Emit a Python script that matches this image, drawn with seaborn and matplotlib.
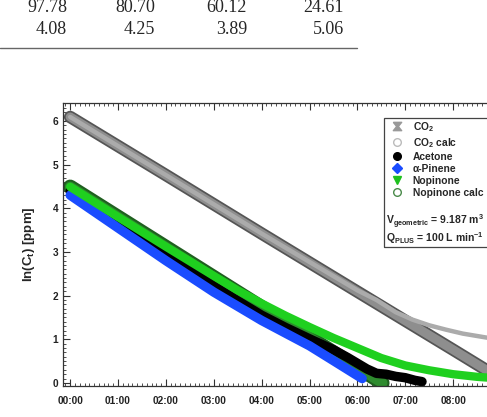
import pandas as pd
import matplotlib
matplotlib.use("Agg")
import matplotlib.pyplot as plt
import seaborn as sns
from matplotlib.lines import Line2D
from matplotlib.path import Path
from matplotlib.patches import Rectangle
from matplotlib.ticker import MultipleLocator, FixedLocator, FuncFormatter

# table rows visible above the figure
table_row1 = ["97.78", "80.70", "60.12", "24.61"]
table_row2 = ["4.08", "4.25", "3.89", "5.06"]

# elapsed time [h] vs ln(C) [ppm]
co2_calc_t = [0.0, 2.0, 4.0, 6.0, 8.0, 9.0]
co2_calc_v = [6.09, 4.76, 3.42, 2.09, 0.76, 0.09]
co2_t = [0.0, 2.0, 4.0, 6.0, 6.4, 6.8, 7.15, 7.5, 7.85, 8.2, 8.69, 9.0]
co2_v = [6.09, 4.76, 3.42, 2.12, 1.90, 1.62, 1.45, 1.32, 1.22, 1.13, 1.04, 1.00]
nop_calc_t = [0.0, 3.0, 5.83, 6.52]
nop_calc_v = [4.49, 2.42, 0.47, 0.0]
acetone_t = [0.0, 1.0, 2.0, 3.0, 3.5, 4.0, 4.5, 5.0, 5.5, 5.8, 6.0, 6.2, 6.4, 6.6, 6.8, 7.0, 7.2, 7.35]
acetone_v = [4.39, 3.66, 2.94, 2.22, 1.88, 1.55, 1.27, 1.01, 0.76, 0.58, 0.45, 0.32, 0.22, 0.20, 0.15, 0.12, 0.06, 0.03]
pinene_t = [0.0, 1.0, 2.0, 3.0, 4.0, 5.0, 5.5, 6.1]
pinene_v = [4.30, 3.55, 2.80, 2.08, 1.43, 0.85, 0.51, 0.10]
nop_t = [0.0, 1.0, 2.0, 3.0, 3.5, 4.0, 4.5, 5.0, 5.5, 6.0, 6.5, 7.0, 7.5, 8.0, 8.5, 9.0]
nop_v = [4.49, 3.80, 3.12, 2.45, 2.12, 1.82, 1.54, 1.28, 1.03, 0.80, 0.57, 0.40, 0.29, 0.20, 0.14, 0.10]

hours = [0, 1, 2, 3, 4, 5, 6, 7, 8]
legend_labels = ["CO$_2$", "CO$_2$ calc", "Acetone", "α-Pinene", "Nopinone", "Nopinone calc"]

sns.set_style("ticks")
plt.rcParams['font.family'] = ['Liberation Sans', 'DejaVu Sans']
plt.rcParams['mathtext.fontset'] = 'custom'
plt.rcParams['mathtext.rm'] = 'Liberation Sans:bold'
plt.rcParams['mathtext.it'] = 'Liberation Sans:bold'
plt.rcParams['mathtext.bf'] = 'Liberation Sans:bold'
plt.rcParams['mathtext.default'] = 'rm'

W, H = 487, 417
fig = plt.figure(figsize=(W / 100, H / 100), dpi=100)
ax = fig.add_axes([63 / W, 31 / H, (501 - 63) / W, 283 / H])


def band(t, v, color, lw, **kw):
    df = pd.DataFrame({"t": t, "v": v})
    sns.lineplot(data=df, x="t", y="v", ax=ax, color=color, linewidth=lw,
                 sort=False, estimator=None, solid_capstyle="round",
                 solid_joinstyle="round", **kw)


# CO2 calc band (hollow grey circles) + measured CO2
band(co2_calc_t, co2_calc_v, "#555555", 9.0)
band(co2_calc_t, co2_calc_v, "#8e8e8e", 6.5)
band(co2_t, co2_v, "#ababab", 3.2)

# nopinone calc band
band(nop_calc_t, nop_calc_v, "#1f5f1f", 10.5)
band(nop_calc_t, nop_calc_v, "#2e8b2e", 7.5)

band(acetone_t, acetone_v, "black", 6.8)
band(pinene_t, pinene_v, "#1a4cff", 6.8)
band(nop_t, nop_v, "#1fd01f", 6.0)

ax.set_xlim(-0.15, 9.0)
ax.set_ylim(-0.07, 6.41)
ax.set_xlabel("")
ax.set_ylabel(r"ln(C$_t$) [ppm]", fontsize=9.5, fontweight="bold")
ax.yaxis.set_label_coords(-0.059, 0.5)

ax.xaxis.set_major_locator(FixedLocator(hours))
ax.xaxis.set_minor_locator(MultipleLocator(0.1))
ax.yaxis.set_major_locator(MultipleLocator(1))
ax.yaxis.set_minor_locator(MultipleLocator(0.1))
ax.xaxis.set_major_formatter(FuncFormatter(lambda v, p: f"{int(round(v)):02d}:00"))
ax.tick_params(which="both", direction="in", top=True, right=True, color="#333333")
ax.tick_params(which="major", length=5, width=0.8)
ax.tick_params(which="minor", length=2.5, width=0.6)
ax.tick_params(axis="x", pad=7)
ax.tick_params(axis="y", pad=3.5)
for lab in ax.get_xticklabels() + ax.get_yticklabels():
    lab.set_fontsize(7.3)
    lab.set_fontweight("bold")
    lab.set_color("#222222")
for s in ax.spines.values():
    s.set_linewidth(0.9)
    s.set_color("#333333")

# legend box
fig.add_artist(Rectangle((384 / W, 1 - 247 / H), (495 - 384) / W, (247 - 118) / H,
                         transform=fig.transFigure, fill=False, lw=0.9, ec="#444444"))
hourglass = Path([(-1, 1), (1, 1), (0.2, 0), (1, -1), (-1, -1), (-0.2, 0), (-1, 1)])
handles = [
    Line2D([], [], ls="", marker=hourglass, ms=6, color="#999999"),
    Line2D([], [], ls="", marker="o", ms=5.5, mfc="white", mec="#bbbbbb"),
    Line2D([], [], ls="", marker="o", ms=5.5, color="black"),
    Line2D([], [], ls="", marker="D", ms=5.5, color="#1a4cff"),
    Line2D([], [], ls="", marker="v", ms=6, color="#1fc01f"),
    Line2D([], [], ls="", marker="o", ms=5.5, mfc="white", mec="#4a8a4a"),
]
ax.legend(handles, legend_labels, loc="upper left",
          bbox_to_anchor=(392 / W, 1 - 120 / H), bbox_transform=fig.transFigure,
          frameon=False, prop={"size": 7.4, "weight": "bold"},
          handlelength=1.0, handletextpad=1.0, labelspacing=0.2,
          borderpad=0, borderaxespad=0)
fig.text(386 / W, 1 - 222 / H, r"V$_{\mathregular{geometric}}$ = 9.187 m$^{3}$",
         ha="left", va="center", fontsize=7.5, fontweight="bold")
fig.text(386 / W, 1 - 238 / H, r"Q$_{\mathregular{PLUS}}$ = 100 L min$^{-1}$",
         ha="left", va="center", fontsize=7.5, fontweight="bold")

# table fragment
col_right = [67, 155, 247, 344]
for x, a, b in zip(col_right, table_row1, table_row2):
    fig.text(x / W, 1 - 7 / H, a, ha="right", va="center", family="Liberation Serif", fontsize=13)
    fig.text(x / W, 1 - 29 / H, b, ha="right", va="center", family="Liberation Serif", fontsize=13)
fig.add_artist(Line2D([0, 357 / W], [1 - 47.7 / H] * 2, transform=fig.transFigure,
                      color="#666666", lw=1.0))

fig.savefig("out.png", dpi=100)
